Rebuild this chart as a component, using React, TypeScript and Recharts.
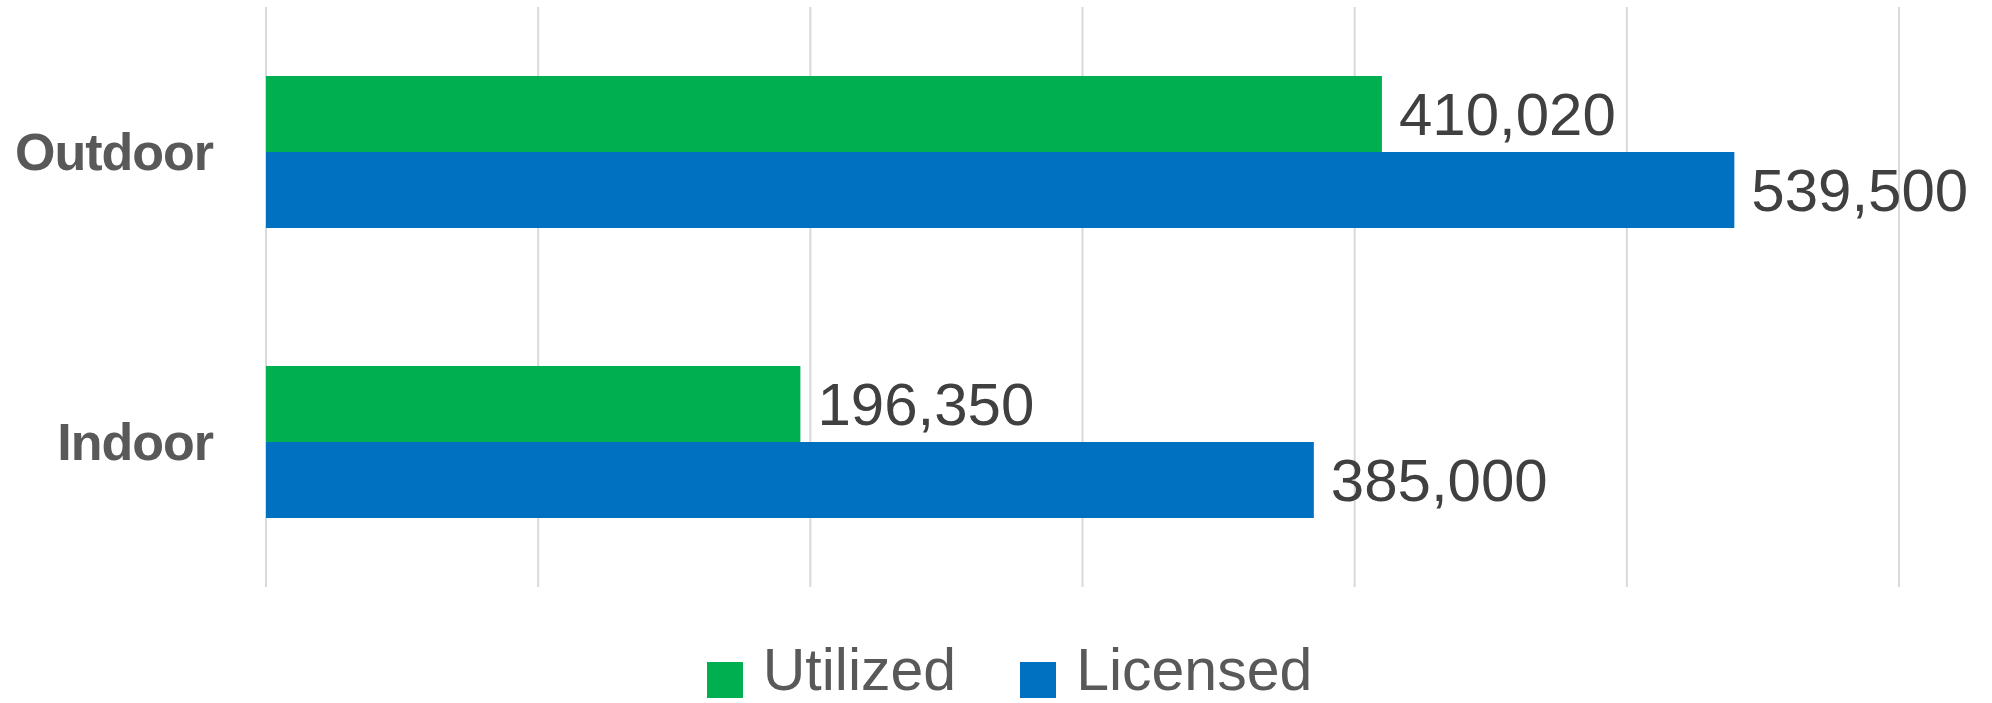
import { BarChart, Bar, XAxis, YAxis, CartesianGrid, Legend, LabelList } from 'recharts'

// categories top to bottom
const categories = ['Outdoor', 'Indoor']
const utilized = [410020, 196350]
const licensed = [539500, 385000]
const xTicks = [0, 100000, 200000, 300000, 400000, 500000, 600000]

const GREEN = '#00B050'
const BLUE = '#0070C0'
const FONT = '"Liberation Sans", Arial, sans-serif'

const data = categories.map((name, i) => ({
  name,
  utilized: utilized[i],
  licensed: licensed[i],
}))

const legendItems = [
  { label: 'Utilized', color: GREEN },
  { label: 'Licensed', color: BLUE },
]

function ChartLegend() {
  return (
    <div
      style={{
        position: 'relative',
        width: 1992,
        height: 116,
        display: 'flex',
        justifyContent: 'center',
        paddingLeft: 27,
        boxSizing: 'border-box',
        fontFamily: FONT,
      }}
    >
      {legendItems.map((it, i) => (
        <div key={it.label} style={{ position: 'relative', height: 116, marginRight: i === 0 ? 64 : 0 }}>
          <div style={{ position: 'absolute', left: 0, top: 75, width: 36, height: 36, background: it.color }} />
          <span
            style={{
              display: 'block',
              marginLeft: 56,
              paddingTop: 54,
              fontSize: 59,
              lineHeight: '58px',
              color: '#595959',
              whiteSpace: 'nowrap',
            }}
          >
            {it.label}
          </span>
        </div>
      ))}
    </div>
  )
}

const fmt = (v: number) => v.toLocaleString('en-US')

export default function App() {
  return (
    <div style={{ position: 'absolute', left: 0, top: 0, width: 1992, height: 703, overflow: 'hidden', background: '#fff' }}>
      <BarChart
        width={1992}
        height={703}
        data={data}
        layout="vertical"
        margin={{ top: 7, right: 93, left: 0, bottom: 0 }}
        barGap={0}
        barSize={76}
      >
        <CartesianGrid horizontal={false} stroke="#D9D9D9" strokeWidth={2} />
        <XAxis type="number" domain={[0, 600000]} ticks={xTicks} hide />
        <YAxis
          type="category"
          dataKey="name"
          width={266}
          axisLine={false}
          tickLine={false}
          tickSize={0}
          tickMargin={53}
          tick={{ fill: '#595959', fontSize: 52, fontWeight: 700, fontFamily: FONT, letterSpacing: -1 }}
        />
        <Legend verticalAlign="bottom" content={() => <ChartLegend />} />
        <Bar dataKey="utilized" name="Utilized" fill={GREEN} isAnimationActive={false}>
          <LabelList dataKey="utilized" position="right" offset={17} formatter={fmt}
            style={{ fill: '#404040', fontSize: 60, fontFamily: FONT }} />
        </Bar>
        <Bar dataKey="licensed" name="Licensed" fill={BLUE} isAnimationActive={false}>
          <LabelList dataKey="licensed" position="right" offset={17} formatter={fmt}
            style={{ fill: '#404040', fontSize: 60, fontFamily: FONT }} />
        </Bar>
      </BarChart>
    </div>
  )
}
